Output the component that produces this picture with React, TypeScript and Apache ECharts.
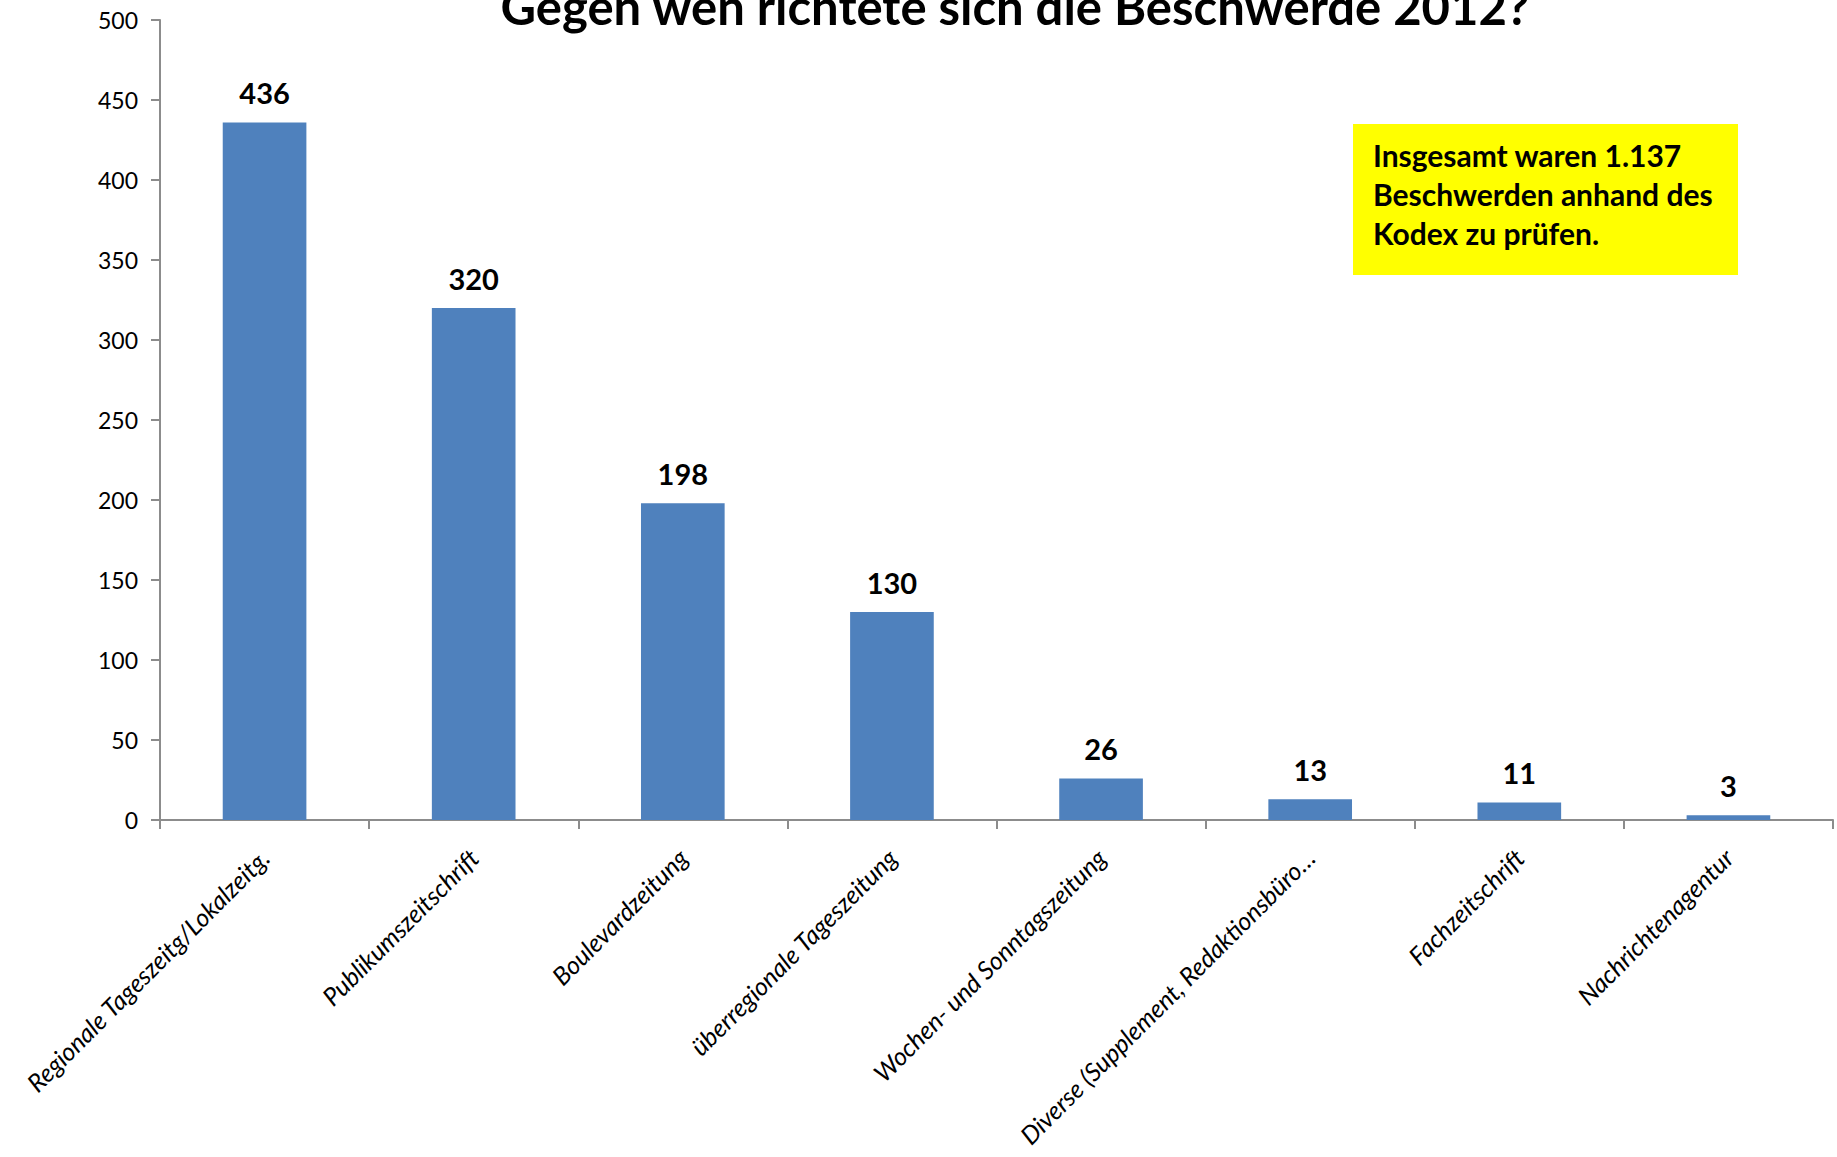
import React, { useEffect, useRef } from "react";
import * as echarts from "echarts";

const title = "Gegen wen richtete sich die Beschwerde 2012?";
const categories = [
  "Regionale Tageszeitg/Lokalzeitg.",
  "Publikumszeitschrift",
  "Boulevardzeitung",
  "überregionale Tageszeitung",
  "Wochen- und Sonntagszeitung",
  "Diverse (Supplement, Redaktionsbüro…",
  "Fachzeitschrift",
  "Nachrichtenagentur",
];
const values = [436, 320, 198, 130, 26, 13, 11, 3];
const yTicks = { min: 0, max: 500, interval: 50 };
const noteLines = [
  "Insgesamt waren 1.137",
  "Beschwerden anhand des",
  "Kodex zu prüfen.",
];

const FONT = "Lato, 'Open Sans', sans-serif";

export default function App() {
  const ref = useRef<HTMLDivElement>(null);
  useEffect(() => {
    if (!ref.current) return;
    const chart = echarts.init(ref.current, undefined, { renderer: "svg" });
    chart.setOption({
      animation: false,
      backgroundColor: "#ffffff",
      textStyle: { fontFamily: FONT },
      grid: {
        left: 160,
        right: 4,
        top: 20,
        bottom: 337,
        containLabel: false,
        outerBoundsMode: "none",
      },
      xAxis: {
        type: "category",
        data: categories,
        axisLine: { lineStyle: { color: "#8c8c8c", width: 2 } },
        axisTick: { show: true, length: 9, lineStyle: { color: "#8c8c8c", width: 2 } },
        axisLabel: {
          rotate: 45,
          interval: 0,
          margin: 33,
          fontSize: 25,
          fontStyle: "italic",
          color: "#000000",
          fontFamily: FONT,
        },
        splitLine: { show: false },
      },
      yAxis: {
        type: "value",
        min: yTicks.min,
        max: yTicks.max,
        interval: yTicks.interval,
        axisLine: { show: true, lineStyle: { color: "#8c8c8c", width: 2 } },
        axisTick: { show: true, length: 9, lineStyle: { color: "#8c8c8c", width: 2 } },
        axisLabel: { margin: 22, fontSize: 23, color: "#000000", fontFamily: FONT },
        splitLine: { show: false },
      },
      series: [
        {
          type: "bar",
          data: values,
          barWidth: "40%",
          itemStyle: { color: "#4F81BD" },
          label: {
            show: true,
            position: "top",
            distance: 15,
            fontSize: 29,
            fontWeight: "bold",
            color: "#000000",
            fontFamily: FONT,
          },
        },
      ],
      graphic: [
        {
          type: "text",
          style: {
            text: title,
            x: 1015,
            y: 30,
            textAlign: "center",
            textVerticalAlign: "bottom",
            fontSize: 49,
            fontWeight: "bold",
            fontFamily: FONT,
            fill: "#000000",
          },
        },
        {
          type: "rect",
          shape: { x: 1353, y: 124, width: 385, height: 151 },
          style: { fill: "#FFFF00" },
        },
        {
          type: "text",
          style: {
            text: noteLines.join("\n"),
            x: 1373,
            y: 135,
            fontSize: 30,
            lineHeight: 39,
            fontWeight: "bold",
            fontFamily: FONT,
            fill: "#000000",
          },
        },
      ],
    });
    return () => chart.dispose();
  }, []);
  return (
    <div
      ref={ref}
      style={{ position: "absolute", left: 0, top: 0, width: 1837, height: 1157 }}
    />
  );
}
